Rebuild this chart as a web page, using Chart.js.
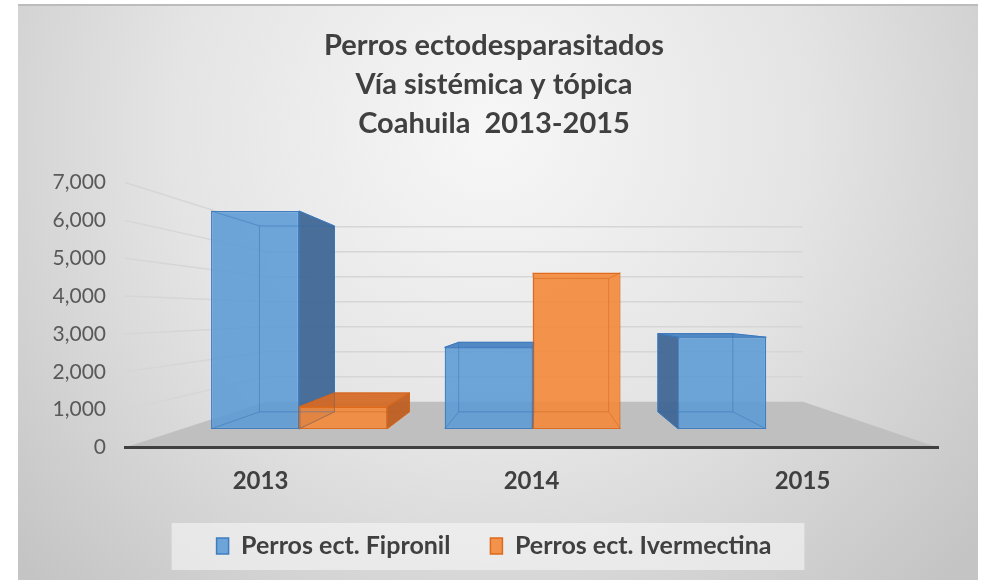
<!DOCTYPE html>
<html>
<head>
<meta charset="utf-8">
<script src="https://cdn.jsdelivr.net/npm/chart.js@4.4.1/dist/chart.umd.min.js"></script>
<style>
  html, body { margin: 0; padding: 0; background: #fff; }
  #wrap { width: 982px; height: 580px; }
</style>
</head>
<body>
<div id="wrap"><canvas id="myChart"></canvas></div>
<script>
const years = ['2013', '2014', '2015'];
const fipronil = [6680, 2500, 2810];
const ivermectina = [680, 4790, 0];
const seriesNames = ['Perros ect. Fipronil', 'Perros ect. Ivermectina'];
const titleLines = ['Perros ectodesparasitados', 'Vía sistémica y tópica', 'Coahuila  2013-2015'];

// fake 3d: vanishing point as a fraction of the plot area,
// depths as scale factors towards that point (1 = front of the floor)
const view = { vx: 0.51, vy: 0.492, floorBack: 0.661, barFront: 0.862, barBack: 0.735 };
const legendPad = 40;

function vanish(chart) {
    const a = chart.chartArea;
    return { x: a.left + a.width * view.vx, y: a.top + a.height * view.vy };
}
function toward(p, x, y, s) {
    return [p.x + (x - p.x) * s, p.y + (y - p.y) * s];
}
function boxOf(bar, p) {
    const { x, y, base, width } = bar.getProps(['x', 'y', 'base', 'width'], true);
    const rect = s => {
        const [l, t] = toward(p, x - width / 2, y, s);
        const [r, b] = toward(p, x + width / 2, base, s);
        return { l, t, r, b };
    };
    return { f: rect(view.barFront), k: rect(view.barBack) };
}
function poly(ctx, pts) {
    ctx.beginPath();
    ctx.moveTo(pts[0][0], pts[0][1]);
    pts.slice(1).forEach(q => ctx.lineTo(q[0], q[1]));
    ctx.closePath();
}

const scene = {
    id: 'scene',
    beforeDraw(chart) {
        const { ctx, chartArea: a } = chart;
        const y = chart.scales.y;
        const p = vanish(chart);
        ctx.save();
        ctx.fillStyle = '#ffffff';
        ctx.fillRect(0, 0, chart.width, chart.height);
        const g = ctx.createRadialGradient(490, 130, 0, 490, 130, 640);
        g.addColorStop(0, '#f7f7f7');
        g.addColorStop(0.5, '#e4e4e4');
        g.addColorStop(1, '#c4c4c4');
        ctx.fillStyle = g;
        ctx.fillRect(18, 5, chart.width - 22, chart.height - 5);
        ctx.fillStyle = '#bcbcbc';
        ctx.fillRect(18, 4, chart.width - 22, 2);

        // side wall + back wall gridlines
        ctx.strokeStyle = '#d6d6d6';
        ctx.lineWidth = 1.5;
        y.ticks.forEach(t => {
            if (t.value === 0) return;
            const yf = y.getPixelForValue(t.value);
            const b1 = toward(p, a.left, yf, view.floorBack);
            const b2 = toward(p, a.right, yf, view.floorBack);
            ctx.beginPath();
            ctx.moveTo(a.left, yf);
            ctx.lineTo(b1[0], b1[1]);
            ctx.lineTo(b2[0], b2[1]);
            ctx.stroke();
        });

        // floor
        const f1 = toward(p, a.left, a.bottom, view.floorBack);
        const f2 = toward(p, a.right, a.bottom, view.floorBack);
        ctx.fillStyle = '#bfbfbf';
        poly(ctx, [[a.left, a.bottom], f1, f2, [a.right, a.bottom]]);
        ctx.fill();

        // legend panel
        const hb = chart.legend.legendHitBoxes;
        if (hb && hb.length) {
            const x0 = Math.min(...hb.map(h => h.left)) - 45;
            const x1 = Math.max(...hb.map(h => h.left + h.width)) + 33;
            const cy = hb[0].top + hb[0].height / 2;
            ctx.fillStyle = 'rgba(246,246,246,0.6)';
            ctx.fillRect(x0, cy - 23, x1 - x0, 47);
        }
        ctx.restore();
    }
};

const boxes = {
    id: 'boxes',
    beforeDatasetsDraw(chart) {
        const { ctx } = chart;
        const p = vanish(chart);
        ctx.save();
        chart.data.datasets.forEach((ds, i) => {
            chart.getDatasetMeta(i).data.forEach((bar, j) => {
                if (!ds.data[j]) return;
                const { f, k } = boxOf(bar, p);
                ctx.lineWidth = 1;
                ctx.strokeStyle = ds.borderColor;
                ctx.fillStyle = ds.sideColor;
                if (k.r > f.r) {
                    poly(ctx, [[f.r, f.t], [k.r, k.t], [k.r, k.b], [f.r, f.b]]);
                    ctx.fill(); ctx.stroke();
                }
                if (k.l < f.l) {
                    poly(ctx, [[f.l, f.t], [k.l, k.t], [k.l, k.b], [f.l, f.b]]);
                    ctx.fill(); ctx.stroke();
                }
                if (k.t < f.t) {
                    ctx.fillStyle = ds.topColor;
                    poly(ctx, [[f.l, f.t], [k.l, k.t], [k.r, k.t], [f.r, f.t]]);
                    ctx.fill(); ctx.stroke();
                }
            });
        });
        ctx.restore();
        // front faces are drawn by chart.js, pushed back to the bar plane
        ctx.save();
        ctx.translate(p.x, p.y);
        ctx.scale(view.barFront, view.barFront);
        ctx.translate(-p.x, -p.y);
    },
    afterDatasetsDraw(chart) {
        const { ctx } = chart;
        ctx.restore();
        const p = vanish(chart);
        ctx.save();
        ctx.lineWidth = 1;
        chart.data.datasets.forEach((ds, i) => {
            chart.getDatasetMeta(i).data.forEach((bar, j) => {
                if (!ds.data[j]) return;
                const { f, k } = boxOf(bar, p);
                ctx.strokeStyle = ds.edgeColor;
                poly(ctx, [[k.l, k.t], [k.r, k.t], [k.r, k.b], [k.l, k.b]]);
                ctx.stroke();
                ctx.beginPath();
                [[f.l, f.t, k.l, k.t], [f.r, f.t, k.r, k.t], [f.l, f.b, k.l, k.b], [f.r, f.b, k.r, k.b]].forEach(e => {
                    ctx.moveTo(e[0], e[1]);
                    ctx.lineTo(e[2], e[3]);
                });
                ctx.stroke();
            });
        });
        ctx.restore();
    }
};

const chart = document.getElementById('myChart');
const myChart = new Chart(chart, {
    type: 'bar',
    data: {
        labels: years,
        datasets: [{
            label: seriesNames[0],
            data: fipronil,
            backgroundColor: 'rgba(91,155,213,0.88)',
            borderColor: '#3f7dc1',
            sideColor: 'rgba(62,102,148,0.94)',
            topColor: 'rgba(74,132,194,0.95)',
            edgeColor: 'rgba(50,110,180,0.45)',
            borderWidth: 1.5,
            borderSkipped: false,
            clip: false
        }, {
            label: seriesNames[1],
            data: ivermectina,
            backgroundColor: 'rgba(244,136,56,0.9)',
            borderColor: '#e06a1b',
            sideColor: 'rgba(190,92,30,0.92)',
            topColor: 'rgba(212,106,38,0.94)',
            edgeColor: 'rgba(200,95,25,0.45)',
            borderWidth: 1.5,
            borderSkipped: false,
            clip: false
        }]
    },
    options: {
        responsive: true,
        maintainAspectRatio: false,
        animation: false,
        locale: 'en-US',
        layout: { padding: { left: 50, right: 44, top: 0, bottom: 11.5 } },
        datasets: {
            bar: { categoryPercentage: 0.753, barPercentage: 1 }
        },
        scales: {
            x: {
                grid: { display: false, drawTicks: false },
                border: { display: true, color: '#404040', width: 3 },
                ticks: {
                    color: '#404040',
                    padding: 19,
                    font: { family: 'Lato', size: 24, weight: 'bold' }
                },
                afterFit: s => { s.height = 46; }
            },
            y: {
                min: 0,
                max: 7000,
                grid: { display: false, drawTicks: false },
                border: { display: false },
                ticks: {
                    stepSize: 1000,
                    color: '#595959',
                    padding: 19,
                    font: { family: 'Lato', size: 21 }
                },
                afterFit: s => { s.width = 75; }
            }
        },
        plugins: {
            title: {
                display: true,
                text: titleLines,
                color: '#404040',
                font: { family: 'Lato', size: 29, weight: 'bold', lineHeight: 1.345 },
                padding: { top: 26.5, bottom: 39 }
            },
            legend: {
                position: 'bottom',
                labels: {
                    color: '#404040',
                    boxWidth: 12,
                    boxHeight: 16,
                    padding: legendPad,
                    font: { family: 'Lato', size: 25, weight: 'bold' }
                }
            },
            tooltip: { enabled: false }
        }
    },
    plugins: [scene, boxes]
});
</script>
</body>
</html>
